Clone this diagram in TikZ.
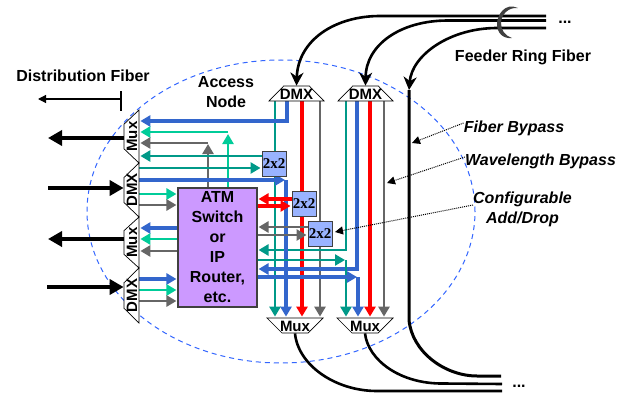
\documentclass[tikz,border=0pt]{standalone}
\usepackage{fontspec}
\setmainfont{Liberation Sans}
\newfontfamily\serifface{Liberation Serif}
\usetikzlibrary{arrows.meta,shapes.geometric,backgrounds}
\definecolor{cB}{HTML}{3366CC}
\definecolor{cG}{HTML}{00CC99}
\definecolor{cT}{HTML}{009988}
\definecolor{cS}{HTML}{666666}
\definecolor{cR}{HTML}{FF0000}
\definecolor{cP}{HTML}{CC99FF}
\definecolor{cX}{HTML}{99B3FF}
\definecolor{cRing}{HTML}{3366FF}
\newcommand{\tzlabel}[1]{\makebox[1pt]{\raisebox{-5pt}[1pt][0pt]{\fontsize{15}{15}\selectfont\bfseries #1}}}
\tikzset{
  trap/.style={trapezium,trapezium stretches=true,draw=black,line width=.7pt,fill=white,inner sep=0pt,minimum height=15pt},
  lefttrap/.style={trap,rotate=90,minimum width=#1},
  toptrap/.style={trap,minimum width=55pt},
  bottrap/.style={trap,shape border rotate=180,minimum width=56pt},
  xbox/.style={draw=black!75,line width=.9pt,fill=cX,minimum width=24pt,minimum height=25pt,inner sep=0pt,font=\fontsize{15}{15}\selectfont\serifface\bfseries},
  lab/.style={inner sep=0pt,align=center,font=\fontsize{16}{20}\selectfont\bfseries},
  ilab/.style={lab,font=\fontsize{16}{20}\selectfont\bfseries\itshape},
  flow/.style={line width=2.5pt,-{Triangle[length=10pt,width=11pt]},shorten >=1pt},
  flowb/.style={flow,line width=3.1pt},
  fat/.style={line width=4pt,black,-{Triangle[length=14pt,width=15pt]}},
  fiber/.style={line width=2.6pt,black},
  fiberin/.style={fiber,-{Stealth[length=13pt,width=13pt,inset=4pt]}},
  leader/.style={line width=1pt,densely dotted,-{Triangle[length=8pt,width=8pt]}},
}
\begin{document}
\begin{tikzpicture}[x=1pt,y=-1pt]
\useasboundingbox (0,0) rectangle (626,396);
% nodes
\node[lefttrap=53pt] (ml1) at (131.5,136.5) {\tzlabel{Mux}};
\node[lefttrap=54pt] (dl1) at (131.5,190) {\tzlabel{DMX}};
\node[lefttrap=51pt] (ml2) at (131.5,242.5) {\tzlabel{Mux}};
\node[lefttrap=55pt] (dl2) at (131.5,295.5) {\tzlabel{DMX}};
\node[toptrap] (dt1) at (296.5,93.5) {\tzlabel{DMX}};
\node[toptrap] (dt2) at (365.5,93.5) {\tzlabel{DMX}};
\node[bottrap] (mb1) at (295,325.5) {\tzlabel{Mux}};
\node[bottrap] (mb2) at (365,325.5) {\tzlabel{Mux}};
\node[draw=black!75,line width=1.1pt,fill=cP,minimum width=79pt,minimum height=119pt,inner sep=0pt,align=center,font=\fontsize{16}{20}\selectfont\bfseries] (atm) at (217.5,247.5) {ATM\\Switch\\or\\IP\\Router,\\etc.};
\node[xbox] (sw1) at (274,163.5) {2x2};
\node[xbox] (sw2) at (304,204) {2x2};
\node[xbox] (sw3) at (320,233.5) {2x2};
\node[lab] (dist) at (83,76) {Distribution Fiber};
\node[lab] (acc) at (226,92) {Access\\Node};
\node[lab] (feed) at (523,57) {Feeder Ring Fiber};
\node[ilab] (fb) at (514,128) {Fiber Bypass};
\node[ilab] (wb) at (540.5,161) {Wavelength Bypass};
\node[ilab] (ca) at (522.5,209) {Configurable\\Add/Drop};
\node[lab] (dotsT) at (565,22) {...};
\node[lab] (dotsB) at (519,386) {...};
\coordinate (distL) at (38,99);
\coordinate (distR) at (121,99);
\coordinate (barT) at (121,91);
\coordinate (barB) at (121,111);
\coordinate (f1) at (48,138);
\coordinate (f2) at (48,188);
\coordinate (f3) at (48,239);
\coordinate (f4) at (47,287);
\coordinate (rA) at (546,16);
\coordinate (rAk) at (380,16);
\coordinate (rB) at (546,20.5);
\coordinate (rBk) at (448,20.5);
\coordinate (rC) at (546,28);
\coordinate (rCk) at (497,28);
\coordinate (byT) at (409,90);
\coordinate (byB) at (409,320);
\coordinate (sA) at (502,391);
\coordinate (sAk) at (377,391);
\coordinate (sB) at (502,384);
\coordinate (sBk) at (443,383.5);
\coordinate (sC) at (501,376);
\coordinate (sCk) at (477,376);
\coordinate (jB1) at (286,180);
\coordinate (jG) at (228,132);
\coordinate (jS) at (208,143);
\coordinate (jT2) at (346,260);
\coordinate (jB2) at (358,277);
\coordinate (tipF) at (412,143);
\coordinate (tipW) at (387,183);
\coordinate (tipC) at (335,232);
\begin{scope}[on background layer]
\node[draw=cRing,line width=1pt,dashed,dash pattern=on 5pt off 4pt,ellipse,minimum width=388pt,minimum height=303pt,inner sep=0pt] (ring) at (281,211.5) {};
% verticals
\draw[flow,cT] (275,0 |- dt1.bottom side) -- (275,0 |- mb1.north);
\draw[flowb,cB] (287,0 |- dt1.bottom side) |- (ml1.bottom side |- 0,121);
\draw[flowb,cR] (302,0 |- dt1.bottom side) -- (302,0 |- mb1.north);
\draw[flow,cS] (320,0 |- dt1.bottom side) -- (320,0 |- mb1.north);
\draw[flow,cT] (346,0 |- dt2.bottom side) |- (atm.east |- 0,250);
\draw[flowb,cB] (357,0 |- dt2.bottom side) |- (atm.east |- 0,269);
\draw[flowb,cR] (370,0 |- dt2.bottom side) -- (370,0 |- mb2.north);
\draw[flow,cS] (384,0 |- dt2.bottom side) -- (384,0 |- mb2.north);
% top-left block
\draw[flow,cG] (228,0 |- atm.north) -- (228,133);
\draw[flow,cG] (jG) -- (ml1.bottom side |- jG);
\draw[flow,cS] (208,0 |- atm.north) -- (208,143);
\draw[flow,cS] (jS) -- (ml1.bottom side |- jS);
\draw[flow,cT] (sw1.west |- 0,156) -- (ml1.bottom side |- 0,156);
\draw[flow,cT] (dl1.bottom side |- 0,168) -- (sw1.west |- 0,168);
\draw[flowb,cB] (dl1.bottom side |- jB1) -- (jB1);
\draw[flowb,cB] (jB1) -- (jB1 |- mb1.north);
\draw[flow,cG] (dl1.bottom side |- 0,194) -- (atm.west |- 0,194);
\draw[flow,cS] (dl1.bottom side |- 0,205) -- (atm.west |- 0,205);
\draw[flowb,cB] (atm.west |- 0,228) -- (ml2.bottom side |- 0,228);
\draw[flow,cG] (atm.west |- 0,239) -- (ml2.bottom side |- 0,239);
\draw[flow,cS] (atm.west |- 0,251) -- (ml2.bottom side |- 0,251);
\draw[flowb,cB] (dl2.bottom side |- 0,279) -- (atm.west |- 0,279);
\draw[flow,cG] (dl2.bottom side |- 0,290) -- (atm.west |- 0,290);
\draw[flow,cS] (dl2.bottom side |- 0,301) -- (atm.west |- 0,301);
% switch links
\draw[flowb,cR] (sw2.west |- 0,199) -- (atm.east |- 0,199);
\draw[flowb,cR] (atm.east |- 0,206) -- (sw2.west |- 0,206);
\draw[flow,cS] (sw3.west |- 0,227) -- (atm.east |- 0,227);
\draw[flow,cS] (atm.east |- 0,235) -- (sw3.west |- 0,235);
\draw[flow,cT] (atm.east |- jT2) -- (jT2);
\draw[flow,cT] (jT2) -- (jT2 |- mb2.north);
\draw[flowb,cB] (atm.east |- jB2) -- (jB2);
\draw[flowb,cB] (jB2) -- (jB2 |- mb2.north);
% fibres
\draw[fat] (ml1.left side |- f1) -- (f1);
\draw[fat] (f2) -- (dl1.top side |- f2);
\draw[fat] (ml2.left side |- f3) -- (f3);
\draw[fat] (f4) -- (dl2.top side |- f4);
\draw[line width=1.2pt,-{Triangle[length=8pt,width=8pt]}] (distR) -- (distL);
\draw[line width=1.2pt] (barT) -- (barB);
\draw[fiberin] (rA) -- (rAk) .. controls (335,16) and (298,40) .. (dt1.north);
\draw[fiberin] (rB) -- (rBk) .. controls (400,20.5) and (366,45) .. (dt2.north);
\draw[fiberin] (rC) -- (rCk) .. controls (450,28) and (412,55) .. (byT);
\draw[fiber,line width=3pt] (byT) -- (byB) .. controls (412,352) and (445,376) .. (sCk) -- (sC);
\draw[fiber] (mb1.south) .. controls (298,365) and (335,391) .. (sAk) -- (sA);
\draw[fiber] (mb2.south) .. controls (368,360) and (400,384) .. (sBk) -- (sB);
\draw[leader] ([yshift=5pt]fb.west) -- (tipF);
\draw[leader] ([yshift=4pt]wb.west) -- (tipW);
\draw[leader] ([yshift=4pt]ca.west) -- (tipC);
\end{scope}
% bundle mark
\fill[black!75] (518,8) .. controls (505,2) and (497,15) .. (497,24) .. controls (497,33) and (503,39) .. (512,38) .. controls (505,36) and (501,30) .. (501,23) .. controls (501,15) and (508,7) .. (518,8);
\end{tikzpicture}
\end{document}
